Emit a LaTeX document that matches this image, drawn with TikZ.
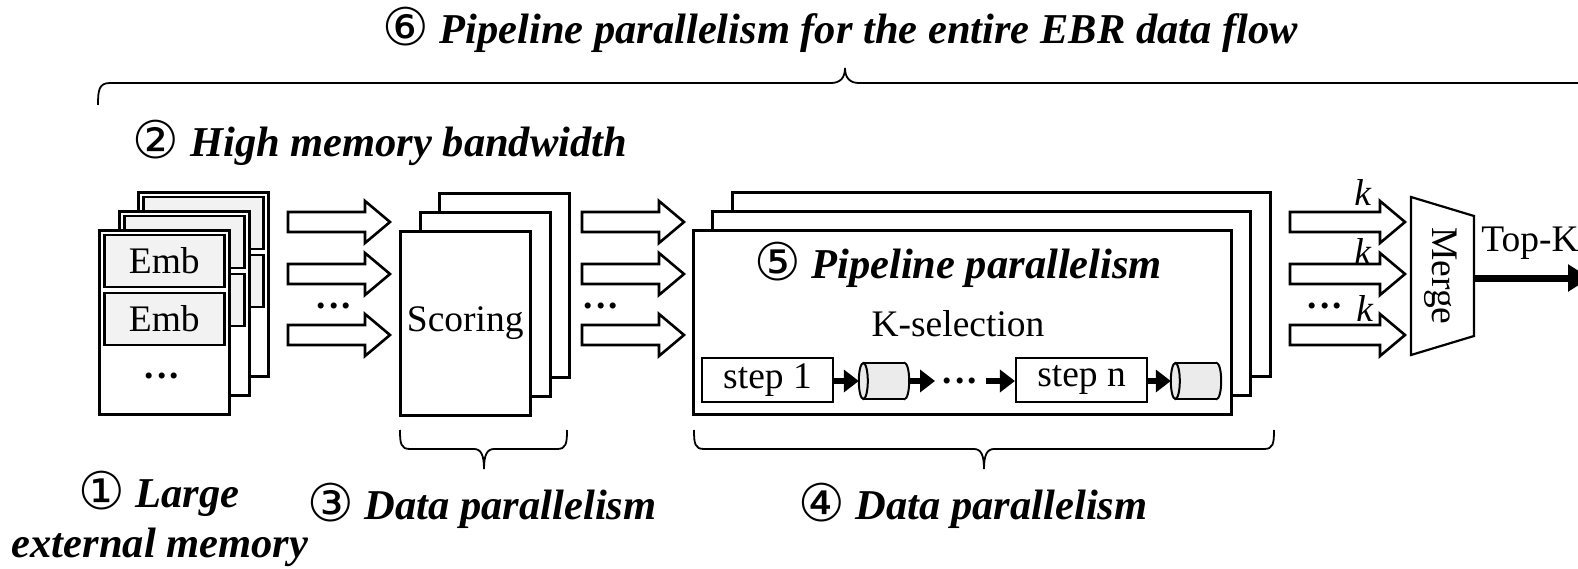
\documentclass[tikz,border=0pt]{standalone}
\usepackage{fontspec}
\setmainfont{Liberation Serif}
\newfontfamily\circfont{DejaVu Sans}
\usetikzlibrary{arrows.meta,calc}
\newcommand\blkarrow[3]{% x, y, length
  \draw[blk] (#1,#2-10) -- (#1+#3-25,#2-10) -- (#1+#3-25,#2-21) -- (#1+#3,#2) -- (#1+#3-25,#2+21) -- (#1+#3-25,#2+10) -- (#1,#2+10) -- cycle;}
\newcommand\drawcyl[1]{%
  \path[cylst,draw] ($(#1.east)+(-4.5,0)$) ellipse [x radius=4.5, y radius=18];
  \fill[cylfl] ($(#1.north west)+(4.5,0)$) rectangle ($(#1.south east)+(-4.5,0)$);
  \draw[cylln] ($(#1.north west)+(4.5,0)$) -- ($(#1.north east)+(-4.5,0)$);
  \draw[cylln] ($(#1.south west)+(4.5,0)$) -- ($(#1.south east)+(-4.5,0)$);
  \path[cylst,draw] ($(#1.west)+(4.5,0)$) ellipse [x radius=4.5, y radius=18];}
\newcommand\cnum[1]{{\circfont\mdseries\upshape\fontsize{52}{52}\selectfont\raisebox{-1.5pt}{#1}}}
\newcommand\bdots{{\bfseries .\kern3pt.\kern3pt.}}
\begin{document}
\begin{tikzpicture}[x=1pt,y=-1pt,
  txt/.style={font=\fontsize{37.5}{40}\selectfont, inner sep=0},
  bi/.style={font=\fontsize{42.5}{46}\selectfont\bfseries\itshape, inner sep=0},
  card/.style={draw, line width=2.6, fill=white, minimum width=130, minimum height=184, anchor=north west, inner sep=0},
  kcard/.style={card, minimum width=538},
  emb/.style={draw, line width=2.6, fill=black!5, minimum width=120, minimum height=52, inner sep=0},
  stepbox/.style={draw, line width=2.2, fill=white, minimum width=131, minimum height=44, inner sep=0, font=\fontsize{37.5}{40}\selectfont},
  cylbox/.style={minimum width=50, minimum height=36, inner sep=0},
  cylst/.style={line width=2, fill=black!8},
  cylfl/.style={fill=black!8},
  cylln/.style={line width=2},
  brc/.style={line width=1.8},
  blk/.style={draw, line width=2.6, fill=white},
  sarr/.style={line width=6, -{Triangle[length=15,width=22]}},
]
\useasboundingbox (0,0) rectangle (1578,569);
\clip (0,0) rectangle (1578,569);

% titles
\node[bi] (title) at (840,30) {\cnum{⑥}\ Pipeline parallelism for the entire EBR data flow};
\node[bi] (t2) at (380,143) {\cnum{②}\ High memory bandwidth};

% top brace
\draw[brc] (98,105) .. controls (98,90) and (99,83) .. (110,83) -- (831,83)
  .. controls (840,83) and (845,78) .. (845,68)
  .. controls (845,78) and (850,83) .. (859,83) -- (1580,83)
  .. controls (1591,83) and (1592,90) .. (1592,105);

% memory cards
\foreach \n/\x/\y in {mem3/137/191, mem2/118/210} {
  \node[card] (\n) at (\x,\y) {};
  \node[emb] at ($(\n.north)+(0,32)$) {};
  \node[emb] at ($(\n.north)+(0,90)$) {};
}
\node[card] (mem1) at (98,229) {};
\node[emb, txt] (emb1) at ($(mem1.north)+(0,32)$) {Emb};
\node[emb, txt] (emb2) at ($(mem1.north)+(0,90)$) {Emb};
\node[txt] (memdots) at (162,376) {\bdots};

% scoring cards
\node[card] (sc3) at (438,192) {};
\node[card] (sc2) at (419,211) {};
\node[card, txt] (sc1) at (399,230) {Scoring};

% K-selection cards
\node[kcard] (k3) at (731,191) {};
\node[kcard] (k2) at (711,210) {};
\node[kcard] (k1) at (692,229) {};
\node[bi] (pp) at (958,265) {\cnum{⑤}\ Pipeline parallelism};
\node[txt] (ksel) at (958,324) {K-selection};
\node[stepbox] (s1) at (767.5,380) {step 1};
\node[cylbox] (c1) at (884,381) {};
\node[txt] (kd) at (960,381) {\bdots};
\node[stepbox] (sn) at (1081.5,380) {step n};
\node[cylbox] (c2) at (1196,381) {};
\drawcyl{c1}
\drawcyl{c2}
\coordinate (d1) at (935,381);
\coordinate (d2) at (986,381);
\draw[sarr] (s1.east|-c1.west) -- (c1.west);
\draw[sarr] (c1.east) -- (d1);
\draw[sarr] (d2) -- (sn.west|-d2);
\draw[sarr] (sn.east|-c2.west) -- (c2.west);

% block arrows
\foreach \y in {222,274,335} {
  \blkarrow{288}{\y}{102}
  \blkarrow{582}{\y}{102}
  \blkarrow{1290}{\y}{115}
}
\node[txt] (dA) at (334,306) {\bdots};
\node[txt] (dB) at (601,306) {\bdots};
\node[txt] (dC) at (1325,306) {\bdots};
\node[txt] (kl1) at (1363,192) {\textit{k}};
\node[txt] (kl2) at (1363,251) {\textit{k}};
\node[txt] (kl3) at (1365,308) {\textit{k}};

% merge
\coordinate (mA) at (1411,197);
\coordinate (mB) at (1474,216);
\coordinate (mC) at (1474,336);
\coordinate (mD) at (1411,355);
\draw[line width=2.2, fill=white] (mA) -- (mB) -- (mC) -- (mD) -- cycle;
\node[txt, rotate=-90] (merge) at (1441,276) {Merge};
\node[txt] (topk) at (1530,243) {Top-K};
\coordinate (mout) at (1474,278);
\coordinate (outend) at (1590,278);
\draw[line width=7, -{Triangle[length=22,width=26]}] (mout) -- (outend);

% bottom braces
\draw[brc] (400,430) .. controls (400,444) and (401,449) .. (410,449) -- (474,449)
  .. controls (481,449) and (484,455) .. (484,469)
  .. controls (484,455) and (487,449) .. (494,449) -- (557,449)
  .. controls (566,449) and (567,444) .. (567,430);
\draw[brc] (694,430) .. controls (694,444) and (695,449) .. (704,449) -- (974,449)
  .. controls (981,449) and (984,455) .. (984,469)
  .. controls (984,455) and (987,449) .. (994,449) -- (1264,449)
  .. controls (1273,449) and (1274,444) .. (1274,430);

% bottom labels
\node[bi] (t1a) at (159,494) {\cnum{①}\ Large};
\node[bi] (t1b) at (160,547) {external memory};
\node[bi] (t3) at (482,506) {\cnum{③}\ Data parallelism};
\node[bi] (t4) at (973,506) {\cnum{④}\ Data parallelism};
\end{tikzpicture}
\end{document}
